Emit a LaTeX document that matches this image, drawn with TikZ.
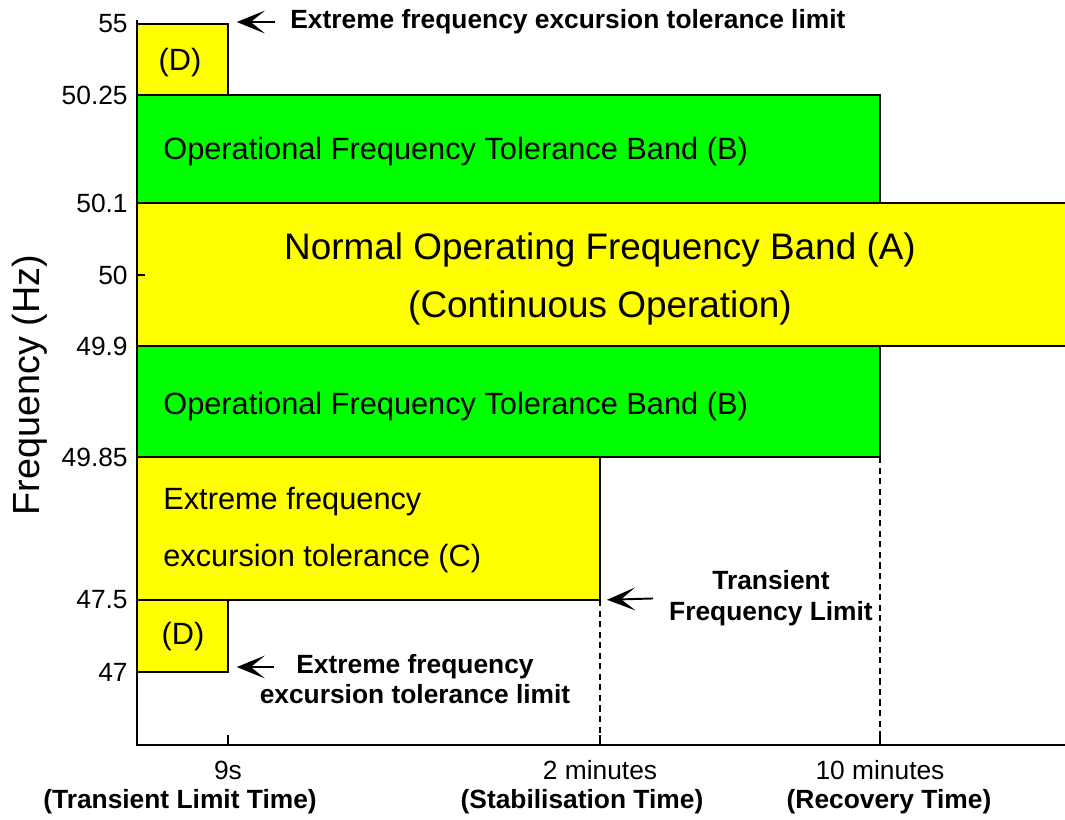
\documentclass[tikz,border=0pt]{standalone}
\usepackage{fontspec}
\setmainfont{Liberation Sans}
\usetikzlibrary{arrows.meta}
\definecolor{bandyellow}{HTML}{FFFF00}
\definecolor{bandgreen}{HTML}{00FF00}
\begin{document}
\begin{tikzpicture}[x=0.02cm, y=-0.02cm,
  band/.style={draw, line width=1.1pt},
  bandtext/.style={inner sep=0pt, font=\fontsize{17.5}{32}\selectfont},
  ticklabel/.style={anchor=east, inner sep=0pt, font=\fontsize{15}{18}\selectfont},
  note/.style={inner sep=0pt, align=center, font=\fontsize{15}{17.6}\selectfont\bfseries},
  limarrow/.style={-{Stealth[length=16pt, width=13pt, inset=8pt]}, line width=1.1pt},
  limitline/.style={dash pattern=on 3.5pt off 2.5pt, line width=1pt}]
\useasboundingbox (0,0) rectangle (1065,819);
% frequency bands
\filldraw[band, fill=bandyellow] (137,24) rectangle (228,95);
\filldraw[band, fill=bandgreen] (137,95) rectangle (880,203);
\fill[bandyellow] (137,203) rectangle (1065,346);
\draw[band] (1065,203) -- (137,203) -- (137,346) -- (1065,346);
\filldraw[band, fill=bandgreen] (137,346) rectangle (880,457);
\filldraw[band, fill=bandyellow] (137,457) rectangle (600,600);
\filldraw[band, fill=bandyellow] (137,600) rectangle (228,672);
\coordinate (dtop) at (228,24);
\coordinate (dlow) at (228,672);
\coordinate (ccorner) at (600,600);
\coordinate (bcorner) at (880,457);
% time limits and axes
\draw[limitline] (ccorner) -- (ccorner |- 0,745);
\draw[limitline] (bcorner) -- (bcorner |- 0,745);
\draw[line width=1.1pt] (137,20) -- (137,745) -- (1065,745);
\foreach \y/\lab in {24/55, 95/50.25, 203/50.1, 275/50, 346/49.9, 457/49.85, 600/47.5, 672/47} {
  \draw[line width=1.1pt] (137,\y) -- (145,\y);
  \node[ticklabel] (f\y) at (128,\y) {\lab};
}
\foreach \x in {228,600,880}
  \draw[line width=1.1pt] (\x,745) -- (\x,735);
\node[rotate=90, font=\fontsize{21.5}{24}\selectfont] (ylab) at (30,385) {Frequency (Hz)};
% band labels
\node[bandtext] (dup) at (180,63) {(D)};
\node[bandtext] (dlo) at (183,637) {(D)};
\node[bandtext, anchor=west] (bup) at (163,152) {Operational Frequency Tolerance Band (B)};
\node[bandtext, anchor=west] (blo) at (163,407) {Operational Frequency Tolerance Band (B)};
\node[inner sep=0pt, align=center, font=\fontsize{21}{33}\selectfont] (aband) at (600,279)
  {Normal Operating Frequency Band (A)\\(Continuous Operation)};
\node[bandtext, anchor=west, align=left] (cband) at (163,530)
  {Extreme frequency\\excursion tolerance (C)};
% limit notes
\node[note, anchor=west] (limtop) at (290,22) {Extreme frequency excursion tolerance limit};
\node[note] (limlowa) at (415,667) {Extreme frequency};
\node[note] (limlowb) at (415,694) {excursion tolerance limit};
\node[note] (transient) at (771,598) {Transient\\Frequency Limit};
\draw[limarrow, shorten <=8.5pt, shorten >=5pt] (limtop.west) -- (limtop.west -| dtop);
\draw[limarrow, shorten <=12.5pt, shorten >=5pt] (limlowa.west) -- (limlowa.west -| dlow);
\draw[limarrow, shorten <=9pt, shorten >=4pt] (transient.west) -- (ccorner);
% time labels
\node[font=\fontsize{15}{18}\selectfont] (t9s) at (228,770) {9s};
\node[font=\fontsize{15}{18}\selectfont] (t2m) at (600,770) {2 minutes};
\node[font=\fontsize{15}{18}\selectfont] (t10m) at (880,770) {10 minutes};
\node[note] (transtime) at (180,802) {(Transient Limit Time)};
\node[note] (stabtime) at (582,802) {(Stabilisation Time)};
\node[note] (rectime) at (889,802) {(Recovery Time)};
\end{tikzpicture}
\end{document}
